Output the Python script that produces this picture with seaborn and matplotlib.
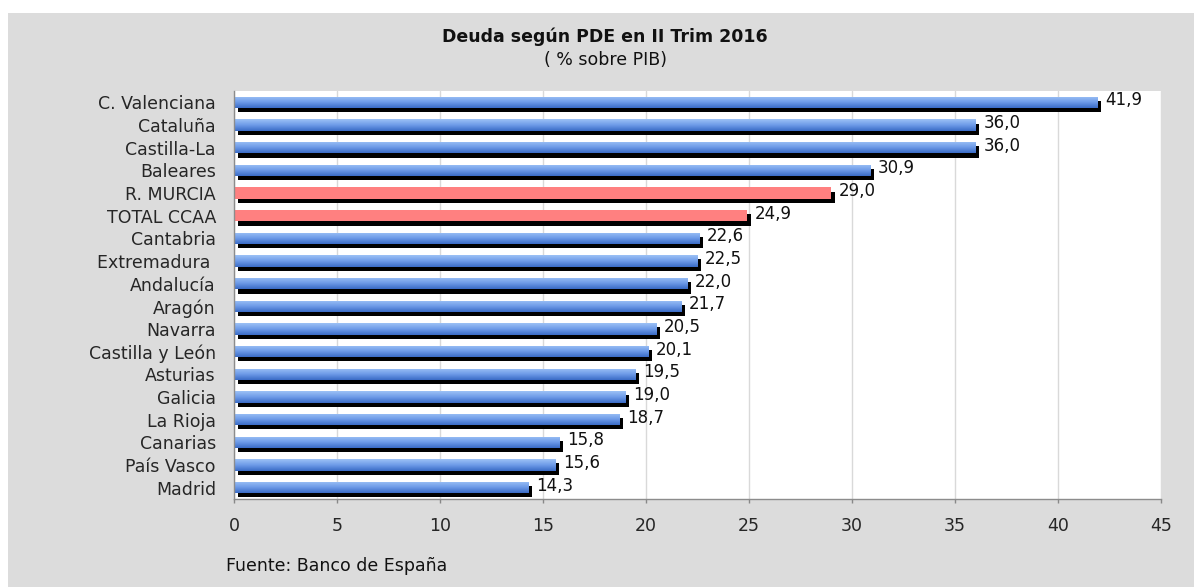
import numpy as np
import pandas as pd
import matplotlib
matplotlib.use("Agg")
import matplotlib.pyplot as plt
import matplotlib.patheffects as pe
from matplotlib.colors import LinearSegmentedColormap
from matplotlib.patches import Rectangle
import seaborn as sns

# ---------------- data ----------------
regions = ["C. Valenciana", "Cataluña", "Castilla-La", "Baleares", "R. MURCIA",
           "TOTAL CCAA", "Cantabria", "Extremadura ", "Andalucía", "Aragón",
           "Navarra", "Castilla y León", "Asturias", "Galicia", "La Rioja",
           "Canarias", "País Vasco", "Madrid"]
values = [41.9, 36.0, 36.0, 30.9, 29.0, 24.9, 22.6, 22.5, 22.0, 21.7,
          20.5, 20.1, 19.5, 19.0, 18.7, 15.8, 15.6, 14.3]
highlight = ["R. MURCIA", "TOTAL CCAA"]
x_ticks = [0, 5, 10, 15, 20, 25, 30, 35, 40, 45]
title = "Deuda según PDE en II Trim 2016"
subtitle = "( % sobre PIB)"
source = "Fuente: Banco de España"

df = pd.DataFrame({
    "region": regions,
    "value": values,
    "group": ["hl" if r in highlight else "base" for r in regions],
})

# ---------------- style ----------------
sns.set_theme(style="white")
plt.rcParams["font.family"] = ["DejaVu Sans"]
plt.rcParams["text.color"] = "#111111"
FS = 12.5

W, H = 1194, 587
fig = plt.figure(figsize=(W / 100, H / 100), dpi=100, facecolor="white")
fig.patches.append(Rectangle((8 / W, 0), 1, (H - 13) / H, transform=fig.transFigure,
                             facecolor="#DCDCDC", edgecolor="none", zorder=-10))

ax = fig.add_axes([234 / W, 1 - 499 / H, (1161 - 234) / W, (499 - 91) / H])
ax.set_facecolor("white")

sns.barplot(data=df, x="value", y="region", hue="group",
            palette={"base": "#5F8FDF", "hl": "#FF8080"},
            dodge=False, width=0.5, legend=False, ax=ax, saturation=1)

shadow = [pe.SimplePatchShadow(offset=(2.6, -3.0), shadow_rgbFace="black", alpha=1.0),
          pe.Normal()]
cmap = LinearSegmentedColormap.from_list("bluegrad", ["#9CC1F6", "#6E9BE8", "#3A6BC6"])
grad = np.linspace(0, 1, 64).reshape(-1, 1)

for p in ax.patches:
    p.set_path_effects(shadow)
    p.set_edgecolor("none")
    fc = p.get_facecolor()
    if fc[0] < 0.6:  # blue bars get a vertical gradient
        x0, w = p.get_x(), p.get_width()
        y0, h = p.get_y(), p.get_height()
        im = ax.imshow(grad, cmap=cmap, aspect="auto", origin="upper",
                       extent=(x0, x0 + w, y0 + h, y0), zorder=p.get_zorder() + 0.1,
                       interpolation="bilinear")
        im.set_clip_path(p)

# value labels
for i, v in enumerate(values):
    ax.annotate(f"{v:.1f}".replace(".", ","), xy=(v, i), xytext=(5.5, 1.5),
                textcoords="offset points", va="center", ha="left", fontsize=FS - 0.5,
                color="#111111")

ax.set_xlim(x_ticks[0], x_ticks[-1])
ax.set_ylim(len(regions) - 0.5, -0.5)
ax.set_xticks(x_ticks)
ax.set_xticklabels([str(t) for t in x_ticks], fontsize=FS)
ax.set_yticks(range(len(regions)))
ax.set_yticklabels(regions, fontsize=FS)
ax.set_yticks(np.arange(len(regions) + 1) - 0.5, minor=True)
ax.tick_params(axis="y", which="major", length=0, pad=13)
ax.tick_params(axis="y", which="minor", length=4, color="#888888", width=1, direction="out")
ax.tick_params(axis="x", which="major", length=3, color="#888888", width=1, pad=10,
               direction="out", bottom=True)
ax.set_xlabel("")
ax.set_ylabel("")

ax.grid(axis="x", color="#D9D9D9", linewidth=1)
ax.grid(axis="y", visible=False)
ax.set_axisbelow(True)
for s in ["top", "right"]:
    ax.spines[s].set_visible(False)
for s in ["left", "bottom"]:
    ax.spines[s].set_visible(True)
    ax.spines[s].set_color("#8C8C8C")
    ax.spines[s].set_linewidth(1)

fig.text(605 / W, 1 - 37 / H, title, ha="center", va="center", fontsize=FS, fontweight="bold")
fig.text(605 / W, 1 - 60 / H, subtitle, ha="center", va="center", fontsize=FS)
fig.text(226 / W, 1 - 566 / H, source, ha="left", va="center", fontsize=FS)

fig.savefig("out.png", dpi=100, facecolor=fig.get_facecolor())
